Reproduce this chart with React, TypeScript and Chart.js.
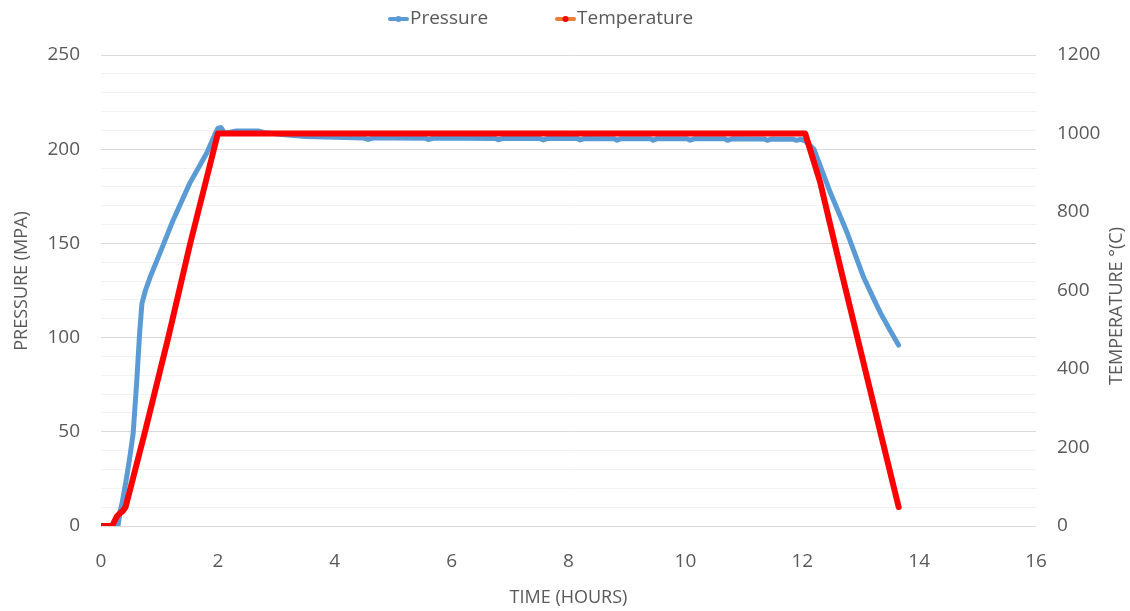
import React, { useEffect, useRef } from "react";
import { Chart, registerables } from "chart.js";

Chart.register(...registerables);

// Pressure readings (hours, MPa)
const pressureTime = [
  0, 0.1, 0.2, 0.29, 0.33, 0.36, 0.44, 0.5, 0.55, 0.61, 0.66, 0.7, 0.76, 0.84,
  1.01, 1.23, 1.52, 1.81, 1.95, 2.0, 2.05, 2.12, 2.3, 2.7, 2.8, 3.1, 3.5, 4.0,
  4.5, 4.57, 4.65, 5.0, 5.55, 5.6, 5.68, 6.2, 6.75, 6.8, 6.88, 7.5, 7.57, 7.65,
  8.15, 8.2, 8.28, 8.78, 8.83, 8.9, 9.4, 9.45, 9.52, 10.03, 10.08, 10.15, 10.67,
  10.72, 10.8, 11.35, 11.4, 11.47, 11.85, 11.9, 11.97, 12.05, 12.2, 12.48, 12.77,
  13.05, 13.2, 13.34, 13.5, 13.65,
];
const pressureValues = [
  0, 0, 0, 0, 8, 12, 26, 38, 49, 76, 102, 118, 125, 132,
  145, 162, 182, 198, 208, 211, 211.5, 208.5, 209.6, 209.6, 208.8, 207.8, 206.8, 206.3,
  205.9, 205.2, 205.9, 205.9, 205.8, 205.1, 205.8, 205.8, 205.7, 205.0, 205.7, 205.7, 204.9, 205.7,
  205.7, 204.9, 205.7, 205.6, 204.8, 205.6, 205.6, 204.8, 205.6, 205.5, 204.8, 205.5, 205.5,
  204.7, 205.5, 205.4, 204.7, 205.4, 205.3, 204.7, 205.2, 204.5, 200, 177, 155.5,
  132, 122, 113, 104, 96,
];

// Temperature readings (hours, °C)
const tempTime = [0, 0.19, 0.23, 0.27, 0.32, 0.37, 0.42, 0.753, 1.152, 1.524, 2.0, 12.05, 12.31, 12.65, 13.34, 13.65];
const tempValues = [0, 0, 12, 24, 32, 38, 48, 240, 481, 718, 1000, 1000, 874, 660, 237, 48];

// Axis ranges and tick steps
const timeTicks = { min: 0, max: 16, step: 2 };
const pressureTicks = { min: 0, max: 250, step: 10, labelStep: 50 };
const tempTicks = { min: 0, max: 1200, step: 200 };

const seriesNames = ["Pressure", "Temperature"];
const axisTitles = { x: "TIME (HOURS)", y: "PRESSURE (MPA)", y1: "TEMPERATURE °(C)" };

const BLUE = "#5B9BD5";
const RED = "#FF0000";
const ORANGE = "#ED7D31";
const TEXT = "#595959";
const FONT = "'Open Sans', 'Liberation Sans', sans-serif";

// Legend across the top plus the two vertical axis titles (both read bottom-to-top)
const decorPlugin = {
  id: "decor",
  afterDraw(chart: any) {
    const ctx = chart.ctx;
    ctx.save();
    ctx.font = `19px ${FONT}`;
    ctx.textBaseline = "middle";
    ctx.fillStyle = TEXT;
    const y = 19;
    const items = [
      { x: 390, line: BLUE, dot: BLUE, label: seriesNames[0] },
      { x: 557, line: ORANGE, dot: RED, label: seriesNames[1] },
    ];
    for (const it of items) {
      ctx.strokeStyle = it.line;
      ctx.lineWidth = 4;
      ctx.lineCap = "round";
      ctx.beginPath();
      ctx.moveTo(it.x, y);
      ctx.lineTo(it.x + 17, y);
      ctx.stroke();
      ctx.fillStyle = it.dot;
      ctx.beginPath();
      ctx.arc(it.x + 8.5, y, 3, 0, Math.PI * 2);
      ctx.fill();
      ctx.fillStyle = TEXT;
      ctx.textAlign = "left";
      ctx.fillText(it.label, it.x + 20, y);
    }

    ctx.font = `18px ${FONT}`;
    ctx.textAlign = "center";
    ctx.fillStyle = TEXT;
    const vTitles = [
      { x: 22, y: 281, text: axisTitles.y },
      { x: 1117, y: 306, text: axisTitles.y1 },
    ];
    for (const t of vTitles) {
      ctx.save();
      ctx.translate(t.x, t.y);
      ctx.rotate(-Math.PI / 2);
      ctx.fillText(t.text, 0, 0);
      ctx.restore();
    }
    ctx.restore();
  },
};

export default function App() {
  const ref = useRef<HTMLCanvasElement | null>(null);

  useEffect(() => {
    document.body.style.margin = "0";
    const canvas = ref.current;
    if (!canvas) return;

    const pressureData = pressureTime.map((t, i) => ({ x: t, y: pressureValues[i] }));
    const tempData = tempTime.map((t, i) => ({ x: t, y: tempValues[i] }));

    const chart = new Chart(canvas, {
      type: "line",
      data: {
        datasets: [
          {
            label: seriesNames[0],
            data: pressureData,
            yAxisID: "y",
            borderColor: BLUE,
            backgroundColor: BLUE,
            borderWidth: 5,
            pointRadius: 0,
            borderCapStyle: "round",
            borderJoinStyle: "round",
            order: 2,
          },
          {
            label: seriesNames[1],
            data: tempData,
            yAxisID: "y1",
            borderColor: RED,
            backgroundColor: RED,
            borderWidth: 6,
            pointRadius: 0,
            borderCapStyle: "round",
            borderJoinStyle: "round",
            order: 1,
          },
        ],
      },
      options: {
        responsive: false,
        animation: false,
        layout: { padding: { top: 55, left: 0, right: 0, bottom: 0 } },
        plugins: {
          legend: { display: false },
          tooltip: { enabled: false },
        },
        scales: {
          x: {
            type: "linear",
            min: timeTicks.min,
            max: timeTicks.max,
            grid: { display: false },
            border: { display: false },
            ticks: {
              stepSize: timeTicks.step,
              color: TEXT,
              font: { family: FONT, size: 19 },
              padding: 16,
              maxRotation: 0,
            },
            title: {
              display: true,
              text: axisTitles.x,
              color: TEXT,
              font: { family: FONT, size: 18 },
              padding: { top: 0, bottom: 2 },
            },
            afterFit(scale: any) {
              scale.height = 85;
            },
          },
          y: {
            type: "linear",
            position: "left",
            min: pressureTicks.min,
            max: pressureTicks.max,
            border: { display: false },
            grid: {
              drawTicks: false,
              color: (c: any) =>
                c.tick && c.tick.value % pressureTicks.labelStep === 0 ? "#D9D9D9" : "#F2F2F2",
              lineWidth: 1,
            },
            ticks: {
              stepSize: pressureTicks.step,
              autoSkip: false,
              color: TEXT,
              font: { family: FONT, size: 19 },
              padding: 21,
              callback: (v: any) => (Number(v) % pressureTicks.labelStep === 0 ? String(v) : ""),
            },
            afterFit(scale: any) {
              scale.width = 101;
            },
          },
          y1: {
            type: "linear",
            position: "right",
            min: tempTicks.min,
            max: tempTicks.max,
            border: { display: false },
            grid: { display: false, drawTicks: false },
            ticks: {
              stepSize: tempTicks.step,
              color: TEXT,
              font: { family: FONT, size: 19 },
              padding: 21,
              callback: (v: any) => String(v),
            },
            afterFit(scale: any) {
              scale.width = 94;
            },
          },
        },
      },
      plugins: [decorPlugin],
    } as any);

    return () => chart.destroy();
  }, []);

  return (
    <div style={{ position: "absolute", left: 0, top: 0, width: 1130, height: 611, background: "#fff" }}>
      <canvas ref={ref} width={1130} height={611} />
    </div>
  );
}
